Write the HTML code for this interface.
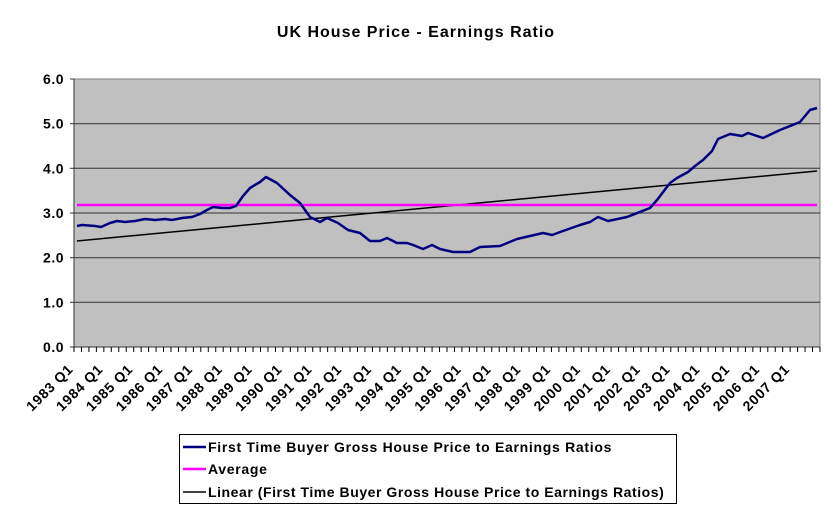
<!DOCTYPE html>
<html><head><meta charset="utf-8"><style>
body{margin:0;background:#fff;}
svg{display:block;font-family:"Liberation Sans",Arial,sans-serif;font-weight:bold;}
</style></head><body>
<svg width="833" height="512" viewBox="0 0 833 512" xmlns="http://www.w3.org/2000/svg">
<text x="416" y="37" font-size="16" text-anchor="middle" letter-spacing="1">UK House Price - Earnings Ratio</text>
<rect x="74" y="79" width="746" height="268" fill="#c0c0c0" stroke="#808080" stroke-width="1"/>
<g stroke="#333" stroke-width="1">
<line x1="74" y1="123.7" x2="820" y2="123.7"/>
<line x1="74" y1="168.3" x2="820" y2="168.3"/>
<line x1="74" y1="213" x2="820" y2="213"/>
<line x1="74" y1="257.7" x2="820" y2="257.7"/>
<line x1="74" y1="302.3" x2="820" y2="302.3"/>
<line x1="74" y1="347" x2="820" y2="347"/>
<line x1="74" y1="79" x2="74" y2="347"/>
<line x1="70" y1="79" x2="74" y2="79"/><line x1="70" y1="123.7" x2="74" y2="123.7"/><line x1="70" y1="168.3" x2="74" y2="168.3"/><line x1="70" y1="213" x2="74" y2="213"/><line x1="70" y1="257.7" x2="74" y2="257.7"/><line x1="70" y1="302.3" x2="74" y2="302.3"/><line x1="70" y1="347" x2="74" y2="347"/>
</g>
<g font-size="14" text-anchor="end" letter-spacing="0.5">
<text x="64" y="84">6.0</text><text x="64" y="128.7">5.0</text><text x="64" y="173.3">4.0</text><text x="64" y="218">3.0</text><text x="64" y="262.7">2.0</text><text x="64" y="307.3">1.0</text><text x="64" y="352">0.0</text>
</g>
<g id="ticks" stroke="#000" stroke-width="1"></g>
<g id="labels" font-size="14" text-anchor="end" letter-spacing="0.8"></g>
<line x1="77" y1="241" x2="817" y2="171" stroke="#000" stroke-width="1.5"/>
<line x1="77" y1="205" x2="817" y2="205" stroke="#ff00ff" stroke-width="2.5"/>
<polyline fill="none" stroke="#000080" stroke-width="2.5" stroke-linejoin="round" points="77,226 82,225 95,226 101,227 110,223 117,221 125,222 135,221 145,219 155,220 165,219 172,220 182,218 192,217 200,214 207,210 213,207 222,208 230,208 236,206 243,196 250,188 260,182 266,177 277,183 290,195 300,203 310,217 320,222 327,218 338,223 348,230 360,233 370,241 380,241 387,238 397,243 407,243 413,245 423,249 432,245 440,249 453,252 470,252 480,247 500,246 517,239 530,236 543,233 552,235 563,231 580,225 590,222 598,217 608,221 627,217 650,208 657,200 670,183 677,178 688,172 695,166 703,160 712,151 718,139 730,134 742,136 748,133 763,138 780,130 800,122 810,110 817,108"/>
<rect x="179.5" y="434.5" width="497" height="69" fill="#fff" stroke="#000" stroke-width="1"/>
<line x1="183" y1="447" x2="206" y2="447" stroke="#000080" stroke-width="2.5"/>
<line x1="183" y1="469" x2="206" y2="469" stroke="#ff00ff" stroke-width="2.5"/>
<line x1="183" y1="492" x2="206" y2="492" stroke="#000" stroke-width="1.5"/>
<g font-size="14" letter-spacing="0.7">
<text x="208" y="452">First Time Buyer Gross House Price to Earnings Ratios</text>
<text x="208" y="474">Average</text>
<text x="208" y="497" letter-spacing="0.55">Linear (First Time Buyer Gross House Price to Earnings Ratios)</text>
</g>
<script>
var t=document.getElementById('ticks'),l=document.getElementById('labels'),ns='http://www.w3.org/2000/svg';
for(var i=0;i<=100;i++){var x=74+7.46*i;var e=document.createElementNS(ns,'line');e.setAttribute('x1',x);e.setAttribute('x2',x);e.setAttribute('y1',347);e.setAttribute('y2',352);t.appendChild(e);}
for(var k=0;k<25;k++){var x=74+29.85*k,y=370;var e=document.createElementNS(ns,'text');e.setAttribute('x',x);e.setAttribute('y',y);e.setAttribute('transform','rotate(-45 '+x+' '+y+')');e.textContent=(1983+k)+' Q1';l.appendChild(e);}
</script>
</svg>
</body></html>
